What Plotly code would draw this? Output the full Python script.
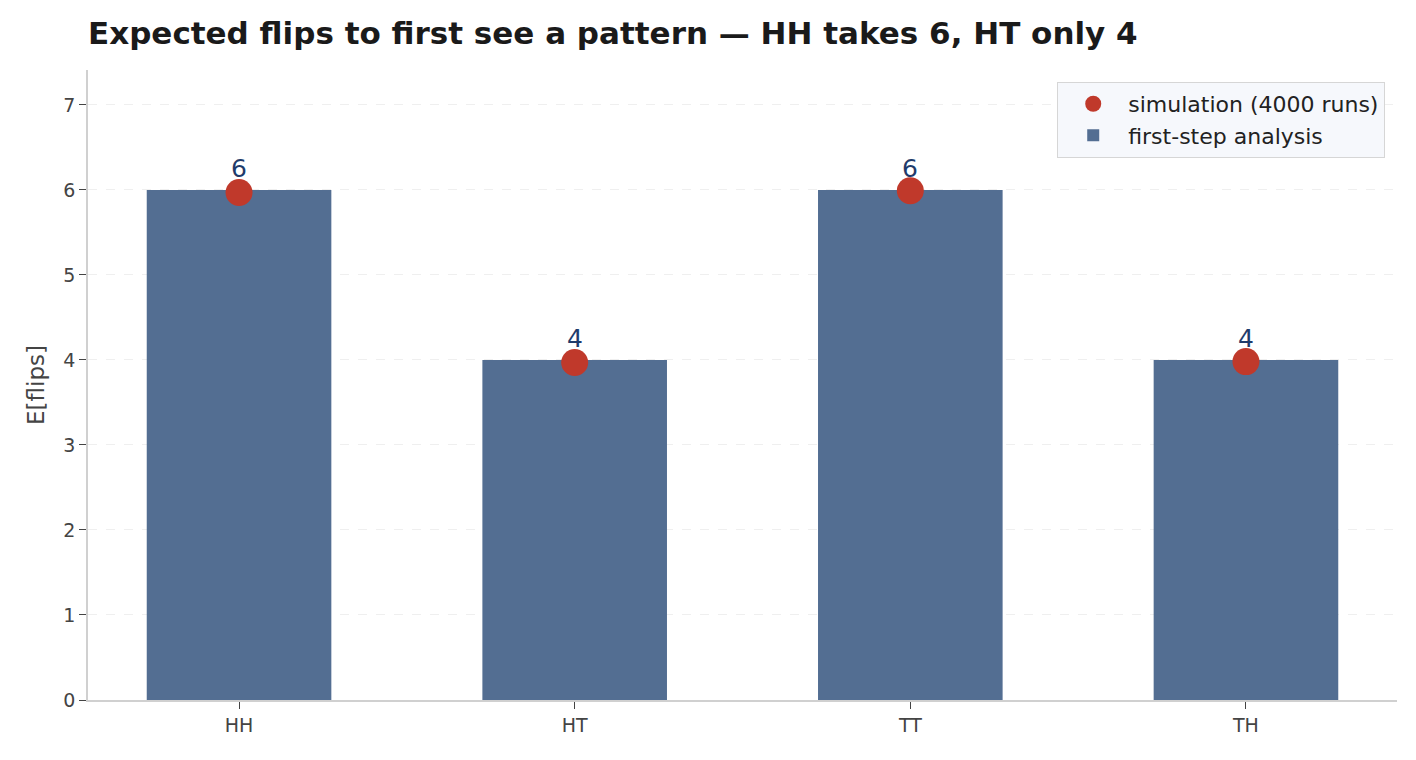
import plotly.graph_objects as go

patterns = ["HH", "HT", "TT", "TH"]
exact = [6, 4, 6, 4]
simulated = [5.97, 3.97, 5.99, 3.98]
labels = ["6", "4", "6", "4"]

FONT = "DejaVu Sans"

fig = go.Figure()
fig.add_trace(go.Bar(
    x=patterns, y=exact, name="first-step analysis",
    marker=dict(color="#536e92", line=dict(width=0)),
    width=0.55, legendrank=2,
))
fig.add_trace(go.Scatter(
    x=patterns, y=simulated, mode="markers", name="simulation (4000 runs)",
    marker=dict(color="#c0392b", size=27, line=dict(width=0)),
    legendrank=1, cliponaxis=False,
))

annotations = [
    dict(x=p, y=v, text=t, xref="x", yref="y", showarrow=False,
         yanchor="bottom", yshift=5,
         font=dict(family=FONT, size=25, color="#1f3b6b"))
    for p, v, t in zip(patterns, exact, labels)
]

fig.update_layout(
    width=1400, height=744,
    margin=dict(l=80, r=11, t=62, b=52),
    paper_bgcolor="white", plot_bgcolor="white",
    font=dict(family=FONT, size=20, color="#444444"),
    title=dict(
        text="<b>Expected flips to first see a pattern — HH takes 6, HT only 4</b>",
        x=0, xref="paper", xanchor="left", y=0.966, yanchor="middle",
        font=dict(family=FONT, size=31, color="#1a1a1a"),
    ),
    showlegend=True,
    legend=dict(
        x=0.991, y=0.981, xanchor="right", yanchor="top",
        bgcolor="#f6f8fc", bordercolor="#d6d6d6", borderwidth=1,
        font=dict(family=FONT, size=22, color="#222222"),
        itemsizing="trace", itemwidth=60,
    ),
    annotations=annotations,
)
fig.update_xaxes(
    range=[-0.45, 3.45], showline=True, linecolor="#d0d0d0", linewidth=1.5,
    ticks="outside", tickcolor="#444444", ticklen=7,
    tickfont=dict(family=FONT, size=19, color="#444444"),
    showgrid=False, zeroline=False,
)
fig.update_yaxes(
    range=[0, 7.41], showline=True, linecolor="#d0d0d0", linewidth=1.5,
    ticks="outside", tickcolor="#444444", ticklen=7, dtick=1,
    tickfont=dict(family=FONT, size=19, color="#444444"),
    showgrid=True, gridcolor="#efefef", griddash="dash", gridwidth=1,
    zeroline=False,
    title=dict(text="E[flips]", font=dict(family=FONT, size=23, color="#444444"), standoff=12),
)

fig.write_html("out.html")
